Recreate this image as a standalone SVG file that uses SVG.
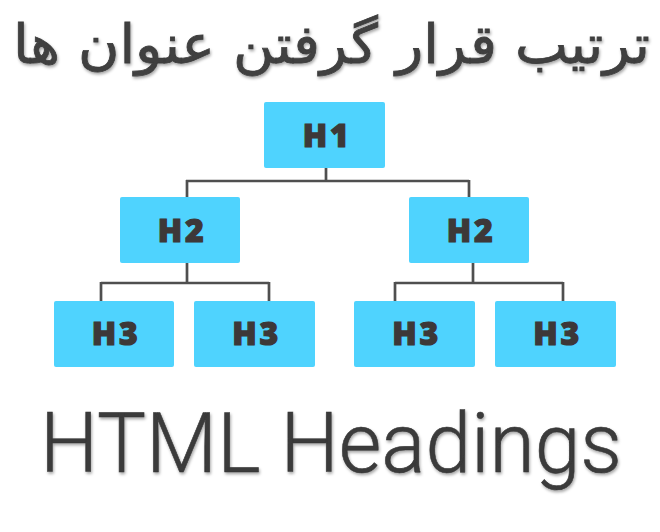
<svg xmlns="http://www.w3.org/2000/svg" width="660" height="532" viewBox="0 0 660 532">
  <defs>
    <filter id="shadow" x="-5%" y="-20%" width="110%" height="150%">
      <feDropShadow dx="1" dy="2" stdDeviation="1.5" flood-color="#000" flood-opacity="0.35"/>
    </filter>
  </defs>
  <style>
    .box { fill: #4fd3fe; }
    .lbl { font-family: "Open Sans", Lato, sans-serif; font-weight: 800; font-size: 32px; fill: #3d3838; stroke: #3d3838; stroke-width: 1.2; text-anchor: middle; letter-spacing: 2.5px; }
    .conn { fill: none; stroke: #4f4f4f; stroke-width: 2.7; }
    .title { font-family: "DejaVu Sans", "Noto Sans", sans-serif; font-size: 54px; fill: #3f3f3f; stroke: #3f3f3f; stroke-width: 0.8; }
    .footer { font-family: Roboto, "Liberation Sans", sans-serif; font-weight: 300; font-size: 83px; fill: #3a3a3a; stroke: #3a3a3a; stroke-width: 0.6; }
  </style>
  <rect width="660" height="532" fill="#ffffff"/>

  <text class="title" x="650" y="63" direction="rtl" text-anchor="start" textLength="637" lengthAdjust="spacingAndGlyphs" filter="url(#shadow)">ترتیب قرار گرفتن عنوان ها</text>

  <g id="connectors">
    <path class="conn" d="M326 168 V181 M186 181 H469 M187 180 V197 M469 180 V197"/>
    <path class="conn" d="M187 263 V283 M101 283 H269 M101 282 V301 M269 282 V301"/>
    <path class="conn" d="M473 263 V283 M395 283 H563 M395 282 V301 M563 282 V301"/>
  </g>

  <g id="h1">
    <rect class="box" x="264" y="102" width="121" height="66" rx="2"/>
    <text class="lbl" x="327" y="147">H1</text>
  </g>
  <g id="h2-left">
    <rect class="box" x="120" y="197" width="120" height="66" rx="2"/>
    <text class="lbl" x="182" y="242">H2</text>
  </g>
  <g id="h2-right">
    <rect class="box" x="409" y="197" width="120" height="66" rx="2"/>
    <text class="lbl" x="471" y="242">H2</text>
  </g>
  <g id="h3-1">
    <rect class="box" x="54" y="301" width="120" height="66" rx="2"/>
    <text class="lbl" x="116" y="345">H3</text>
  </g>
  <g id="h3-2">
    <rect class="box" x="194" y="301" width="121" height="66" rx="2"/>
    <text class="lbl" x="256.5" y="345">H3</text>
  </g>
  <g id="h3-3">
    <rect class="box" x="354" y="301" width="121" height="66" rx="2"/>
    <text class="lbl" x="416.5" y="345">H3</text>
  </g>
  <g id="h3-4">
    <rect class="box" x="495" y="301" width="121" height="66" rx="2"/>
    <text class="lbl" x="557.5" y="345">H3</text>
  </g>

  <text class="footer" x="40" y="472" textLength="582" lengthAdjust="spacingAndGlyphs" filter="url(#shadow)">HTML Headings</text>
</svg>
